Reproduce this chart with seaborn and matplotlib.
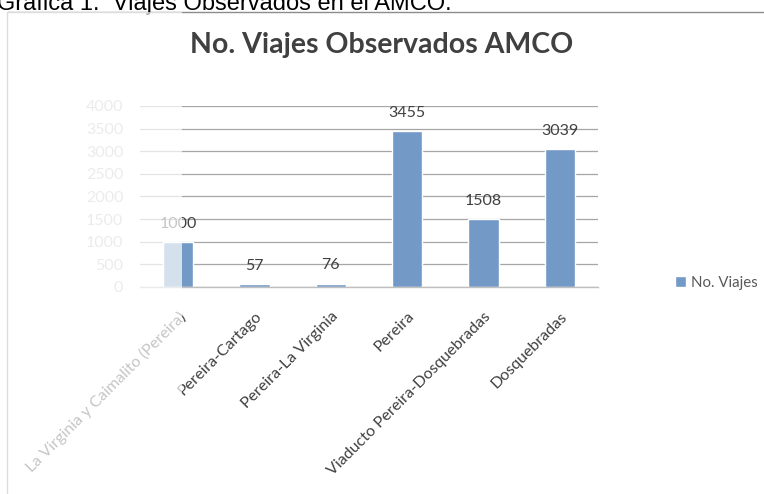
import matplotlib
matplotlib.use("Agg")
import matplotlib.pyplot as plt
import seaborn as sns
import pandas as pd
from matplotlib.patches import Rectangle

categories = ["La Virginia y Caimalito (Pereira)", "Pereira-Cartago", "Pereira-La Virginia",
              "Pereira", "Viaducto Pereira-Dosquebradas", "Dosquebradas"]
viajes = [1000, 57, 76, 3455, 1508, 3039]
yticks = [0, 500, 1000, 1500, 2000, 2500, 3000, 3500, 4000]

df = pd.DataFrame({"Tramo": categories, "No. Viajes": viajes})

sns.set_theme(style="white")
plt.rcParams["font.family"] = ["Lato", "DejaVu Sans"]

fig = plt.figure(figsize=(7.64, 4.94), dpi=100)
ax = fig.add_axes([140/764, 207/494, 458/764, 181/494])

bar_color = "#7399c6"
sns.barplot(data=df, x="Tramo", y="No. Viajes", color=bar_color, width=0.4,
            ax=ax, saturation=1, label="No. Viajes", zorder=2)

ax.set_ylim(0, 4000)
ax.set_yticks(yticks)
ax.set_yticklabels([str(t) for t in yticks], color="#bfbfbf", fontsize=11.5)
ax.yaxis.grid(True, color="#a6a6a6", linewidth=0.9, zorder=0)
ax.set_axisbelow(True)
for s in ["top", "right", "left"]:
    ax.spines[s].set_visible(False)
ax.spines["bottom"].set_color("#bfbfbf")
ax.spines["bottom"].set_linewidth(1.0)
ax.tick_params(axis="y", length=0, pad=12)
ax.set_xlabel("")
ax.set_ylabel("")
ax.set_xticks(range(len(categories)))
ax.set_xticklabels(categories, rotation=45, ha="right", rotation_mode="anchor",
                   fontsize=11.5, color="#404040")
ax.tick_params(axis="x", length=0, pad=16)

for i, v in enumerate(viajes):
    ax.annotate(str(v), (i, v), xytext=(0, 8), textcoords="offset points",
                ha="center", va="bottom", fontsize=11.5, color="#404040")

leg = ax.legend(loc="center left", bbox_to_anchor=(670/764, 1 - 283/494),
                bbox_transform=fig.transFigure, frameon=False, fontsize=10.8,
                handlelength=0.75, handleheight=0.75, handletextpad=0.35,
                borderaxespad=0, borderpad=0.3)
for t in leg.get_texts():
    t.set_color("#595959")

fig.text(0.5, 1 - 45/494, "No. Viajes Observados AMCO", ha="center", va="center",
         fontsize=20.5, fontweight="bold", color="#404040")

# document caption partly cut off at the top (as in the scanned page)
fig.text(-0.004, 1 - 10/494, "Gráfica 1.  Viajes Observados en el AMCO.", ha="left",
         va="baseline", fontsize=17, color="black", family=["Liberation Sans", "DejaVu Sans"])

# chart frame
fig.add_artist(Rectangle((7/764, -0.1), 1.2, 1 - 12/494 + 0.1, transform=fig.transFigure,
                         fill=False, edgecolor="#8c8c8c", linewidth=1.0))

# faded overlay on the left part of the scanned chart
fig.add_artist(Rectangle((0, 0), 182/764, 1 - 12/494, transform=fig.transFigure,
                         facecolor="white", alpha=0.7, edgecolor="none", zorder=10))

fig.savefig("out.png", dpi=100)
